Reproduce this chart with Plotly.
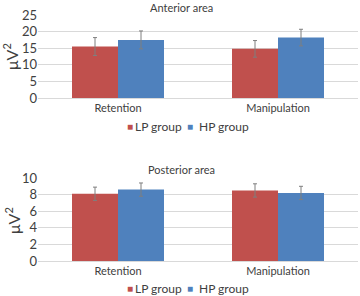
import plotly.graph_objects as go

categories = ["Retention", "Manipulation"]
groups = ["LP group", "HP group"]

anterior_lp = [15.5, 14.8]
anterior_lp_err = [2.7, 2.5]
anterior_hp = [17.5, 18.2]
anterior_hp_err = [2.7, 2.5]

posterior_lp = [8.1, 8.5]
posterior_lp_err = [0.8, 0.8]
posterior_hp = [8.6, 8.2]
posterior_hp_err = [0.8, 0.8]

anterior_ticks = [0, 5, 10, 15, 20, 25]
posterior_ticks = [0, 2, 4, 6, 8, 10]

RED = "#C0504D"
BLUE = "#4F81BD"
ERR = "#7f7f7f"
FONT = "Lato, Open Sans, sans-serif"
W, H = 360, 296

fig = go.Figure()

def add_bars(vals, errs, color, name, xa, ya):
    fig.add_trace(go.Bar(
        x=categories, y=vals, name=name, marker=dict(color=color, line=dict(width=0)),
        error_y=dict(type="data", array=errs, color=ERR, thickness=1, width=2),
        xaxis=xa, yaxis=ya, showlegend=False,
    ))

add_bars(anterior_lp, anterior_lp_err, RED, groups[0], "x", "y")
add_bars(anterior_hp, anterior_hp_err, BLUE, groups[1], "x", "y")
add_bars(posterior_lp, posterior_lp_err, RED, groups[0], "x2", "y2")
add_bars(posterior_hp, posterior_hp_err, BLUE, groups[1], "x2", "y2")

def fy(px):
    return 1 - px / H

def fx(px):
    return px / W

xdom = [fx(38), fx(358)]
grid = "#d9d9d9"
TXT = "#404040"
tickfont = dict(family=FONT, size=13, color=TXT)
catfont = dict(family=FONT, size=11, color=TXT)

common_x = dict(showgrid=False, showline=True, linecolor=grid, linewidth=1,
                ticks="", tickfont=catfont, domain=xdom, automargin=False)
common_y = dict(showgrid=True, gridcolor=grid, gridwidth=1, zeroline=False,
                showline=False, ticks="", tickfont=tickfont, automargin=False)

def txt(text, x, y, size, color=TXT, angle=0, xanchor="center"):
    return dict(text=text, x=fx(x), y=fy(y), xref="paper", yref="paper",
                xanchor=xanchor, yanchor="middle", textangle=angle,
                showarrow=False, font=dict(family=FONT, size=size, color=color))

def legend_items(y):
    return [
        txt("■", 130, y, 10, RED),
        txt(groups[0], 133, y, 12, xanchor="left"),
        txt("■", 190, y, 10, BLUE),
        txt(groups[1], 197, y, 12, xanchor="left"),
    ]

fig.update_layout(
    template="none",
    width=W, height=H, margin=dict(l=0, r=0, t=0, b=0, autoexpand=False),
    paper_bgcolor="white", plot_bgcolor="white",
    barmode="group", bargap=0.425, bargroupgap=0,
    font=dict(family=FONT, color=TXT),
    showlegend=False,
    xaxis=dict(**common_x, anchor="y"),
    yaxis=dict(**common_y, domain=[fy(98), fy(15)], range=[0, 25],
               tickvals=anterior_ticks, anchor="x"),
    xaxis2=dict(**common_x, anchor="y2"),
    yaxis2=dict(**common_y, domain=[fy(261), fy(178)], range=[0, 10],
                tickvals=posterior_ticks, anchor="x2"),
    annotations=[
        txt("Anterior area", 181, 7, 11),
        txt("Posterior area", 181, 169, 11),
        txt("μV<sup>2</sup>", 11, 57, 16, angle=-90),
        txt("μV<sup>2</sup>", 12, 221, 16, angle=-90),
    ] + legend_items(126) + legend_items(288),
)

fig.write_html("out.html", config={"displayModeBar": False},
               post_script="document.body.style.margin='0';")
